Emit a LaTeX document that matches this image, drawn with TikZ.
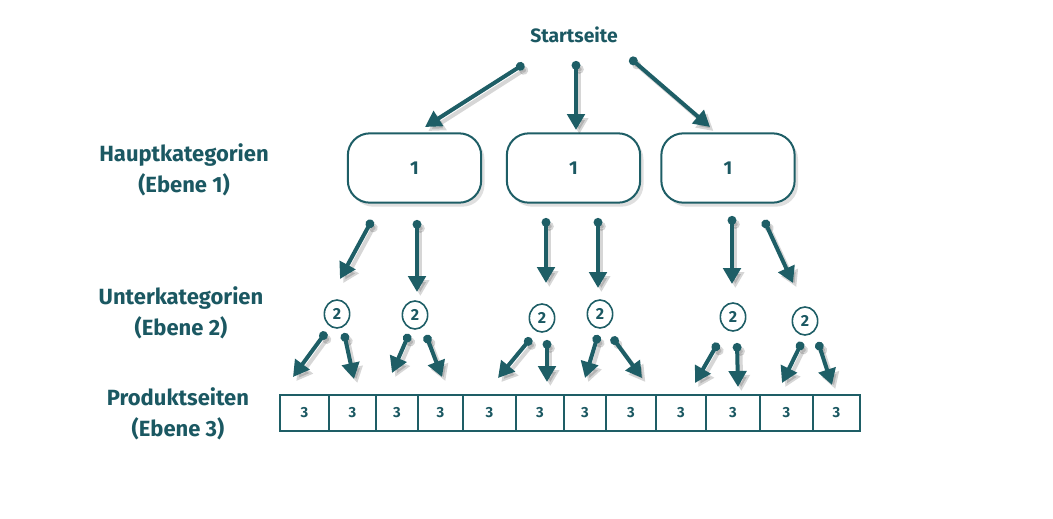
\documentclass[tikz,border=0pt]{standalone}
\usepackage{fontspec}
\setmainfont{Fira Sans}
\usetikzlibrary{arrows.meta,shapes.geometric,shadows}
\definecolor{tealc}{HTML}{1E5E66}
\definecolor{txtc}{HTML}{1B5862}
\tikzset{
  arr/.style={line width=3pt, draw=tealc, {Circle[length=6.5pt]}-{Triangle[length=12pt,width=13pt]}},
  arrsh/.style={line width=3pt, draw=black, opacity=0.16, {Circle[length=6.5pt]}-{Triangle[length=12pt,width=13pt]}, transform canvas={shift={(2.5pt,-3pt)}}},
  lbl/.style={text=txtc, font=\fontsize{16.5}{23}\selectfont\bfseries, align=center},
  mainbox/.style={draw=tealc, line width=1.5pt, fill=white, rounded corners=16.5pt, minimum width=100pt, minimum height=52pt, text=txtc, font=\fontsize{14}{16}\selectfont\bfseries, drop shadow={shadow xshift=2.5pt, shadow yshift=-3pt, opacity=0.25}},
  subc/.style={ellipse, draw=tealc, line width=1.2pt, fill=white, minimum width=19pt, minimum height=21pt, inner sep=0pt, text=txtc, font=\fontsize{12}{14}\selectfont\bfseries},
  cell/.style={draw=tealc, line width=1.5pt, minimum height=27pt, inner sep=0pt, text=txtc, font=\fontsize{11}{13}\selectfont\bfseries},
}
\newcommand\conn[2]{\draw[arrsh] (#1) -- (#2); \draw[arr] (#1) -- (#2);}
\begin{document}
\begin{tikzpicture}[x=0.75pt,y=-0.75pt]
\useasboundingbox (0,0) rectangle (1053,518);
% labels
\node[lbl, font=\fontsize{14.5}{17}\selectfont\bfseries] (start) at (574,35) {Startseite};
\node[lbl] (l1) at (184,170) {Hauptkategorien\\(Ebene 1)};
\node[lbl] (l2) at (181,313) {Unterkategorien\\(Ebene 2)};
\node[lbl] (l3) at (178,414) {Produktseiten\\(Ebene 3)};
% main boxes
\node[mainbox] (b1) at (414.5,168) {1};
\node[mainbox] (b2) at (573.5,168) {1};
\node[mainbox] (b3) at (728,168) {1};
% subcategories
\node[subc] (c1) at (337,314) {2};
\node[subc] (c2) at (415,315) {2};
\node[subc] (c3) at (542,318) {2};
\node[subc] (c4) at (600,314) {2};
\node[subc] (c5) at (733,317) {2};
\node[subc] (c6) at (805,321) {2};
% product cells
\foreach \a/\b [count=\i] in {280/329,329/376,376/418,418/463,463/516,516/564,564/606,606/656,656/706,706/760,760/813,813/860}
  \node[cell, minimum width={(\b-\a)*0.75pt}] (p\i) at ({(\a+\b)/2},413) {3};
% coordinates
\coordinate (s1) at (524,64); \coordinate (e1) at (425,127);
\coordinate (s2) at (576,61); \coordinate (e2) at (576,130);
\coordinate (s3) at (630,58); \coordinate (e3) at (710,127);
\coordinate (b1a) at (372,220); \coordinate (b1ae) at (340,279);
\coordinate (b1b) at (417,220); \coordinate (b1be) at (417,292);
\coordinate (b2a) at (546,218); \coordinate (b2ae) at (546,283);
\coordinate (b2b) at (598,218); \coordinate (b2be) at (598,288);
\coordinate (b3a) at (732,216); \coordinate (b3ae) at (732,284);
\coordinate (b3b) at (764,220); \coordinate (b3be) at (793,283);
\coordinate (c1a) at (326,332); \coordinate (c1ae) at (293,377);
\coordinate (c1b) at (344,333); \coordinate (c1be) at (354,379);
\coordinate (c2a) at (409,334); \coordinate (c2ae) at (392,373);
\coordinate (c2b) at (426,335); \coordinate (c2be) at (442,377);
\coordinate (c3a) at (531,338); \coordinate (c3ae) at (498,378);
\coordinate (c3b) at (547,340); \coordinate (c3be) at (547,382);
\coordinate (c4a) at (598,335); \coordinate (c4ae) at (585,378);
\coordinate (c4b) at (612,337); \coordinate (c4be) at (642,378);
\coordinate (c5a) at (718,343); \coordinate (c5ae) at (695,383);
\coordinate (c5b) at (737,343); \coordinate (c5be) at (738,387);
\coordinate (c6a) at (802,342); \coordinate (c6ae) at (782,383);
\coordinate (c6b) at (818,342); \coordinate (c6be) at (832,385);
% connectors
\conn{s1}{e1} \conn{s2}{e2} \conn{s3}{e3}
\conn{b1a}{b1ae} \conn{b1b}{b1be}
\conn{b2a}{b2ae} \conn{b2b}{b2be}
\conn{b3a}{b3ae} \conn{b3b}{b3be}
\conn{c1a}{c1ae} \conn{c1b}{c1be}
\conn{c2a}{c2ae} \conn{c2b}{c2be}
\conn{c3a}{c3ae} \conn{c3b}{c3be}
\conn{c4a}{c4ae} \conn{c4b}{c4be}
\conn{c5a}{c5ae} \conn{c5b}{c5be}
\conn{c6a}{c6ae} \conn{c6b}{c6be}
\end{tikzpicture}
\end{document}
